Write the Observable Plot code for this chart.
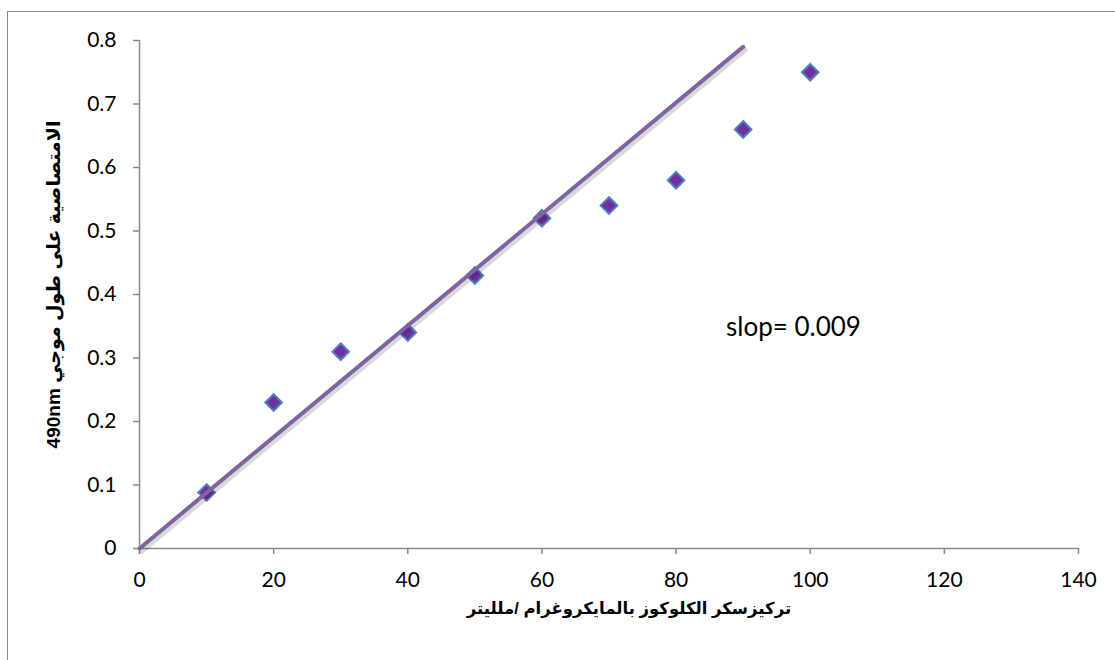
<!DOCTYPE html>
<html>
<head>
<meta charset="utf-8">
<script src="https://cdn.jsdelivr.net/npm/d3@7"></script>
<script src="https://cdn.jsdelivr.net/npm/@observablehq/plot@0.6"></script>
<style>
  html, body { margin: 0; padding: 0; background: #fff; overflow: hidden; }
  #wrap { position: relative; width: 1115px; height: 660px; overflow: hidden; }
  #frame { position: absolute; left: 7px; top: 11px; width: 1200px; height: 700px; border-top: 1.5px solid #8c8c8c; border-left: 1.5px solid #8c8c8c; pointer-events: none; }
</style>
</head>
<body>
<div id="wrap"><div id="frame"></div></div>
<script>
// Data
const concentration = [10, 20, 30, 40, 50, 60, 70, 80, 90, 100];
const absorbance = [0.088, 0.23, 0.31, 0.34, 0.43, 0.52, 0.54, 0.58, 0.66, 0.75];
const fitX = [0, 90];
const fitY = [0, 0.79];
const xTicks = [0, 20, 40, 60, 80, 100, 120, 140];
const yTicks = [0, 0.1, 0.2, 0.3, 0.4, 0.5, 0.6, 0.7, 0.8];
const xLabel = "تركيزسكر الكلوكوز بالمايكروغرام /ملليتر";
const yLabel = "490nm الامتصاصية على طول موجي";
const slopeNote = {text: "slop= 0.009", x: 97.5, y: 0.348};

const points = concentration.map((c, i) => ({x: c, y: absorbance[i]}));
const fit = fitX.map((v, i) => ({x: v, y: fitY[i]}));

const axisColor = "#8a8a8a";
const arabicFont = "'Liberation Sans', 'DejaVu Sans', sans-serif";

const chart = Plot.plot({
  width: 1115,
  height: 660,
  marginLeft: 139,
  marginRight: 37,
  marginTop: 40,
  marginBottom: 112,
  style: {fontFamily: "Lato, 'Open Sans', sans-serif", fontSize: "21px", color: "#000", background: "transparent"},
  x: {domain: [0, 140]},
  y: {domain: [0, 0.8]},
  marks: [
    Plot.ruleY([0], {stroke: axisColor, strokeWidth: 1.5}),
    Plot.ruleX([0], {stroke: axisColor, strokeWidth: 1.5}),
    Plot.axisX({ticks: xTicks, tickSize: 6, tickPadding: 18, stroke: axisColor, strokeWidth: 1.5, strokeOpacity: 1, fill: "#000", label: null, tickFormat: d => String(d)}),
    Plot.axisY({ticks: yTicks, tickSize: 6, tickPadding: 17, stroke: axisColor, strokeWidth: 1.5, strokeOpacity: 1, fill: "#000", label: null, tickFormat: d => d === 0 ? "0" : d.toFixed(1)}),
    Plot.dot(points, {x: "x", y: "y", symbol: "diamond2", r: 7.5, fill: "#7030A0", stroke: "#4F81BD", strokeWidth: 2}),
    Plot.line(fit, {x: "x", y: "y", stroke: "#000", strokeOpacity: 0.15, strokeWidth: 5, dx: 2, dy: 3}),
    Plot.line(fit, {x: "x", y: "y", stroke: "#8064A2", strokeWidth: 4}),
    Plot.text([slopeNote], {x: "x", y: "y", text: "text", fontSize: 26, fill: "#000", textAnchor: "middle"}),
    Plot.text([yLabel], {text: d => d, frameAnchor: "left", rotate: -90, dx: -86, dy: -10, textAnchor: "middle", lineAnchor: "middle", fontWeight: "bold", fontSize: 19, fontFamily: arabicFont, fill: "#000"}),
    Plot.text([xLabel], {text: d => d, frameAnchor: "bottom", dx: 20, dy: 60, textAnchor: "middle", lineAnchor: "middle", fontWeight: "bold", fontSize: 16.5, fontFamily: arabicFont, fill: "#000"})
  ]
});
chart.style.position = "absolute";
chart.style.left = "0";
chart.style.top = "0";
document.getElementById("wrap").appendChild(chart);
</script>
</body>
</html>
